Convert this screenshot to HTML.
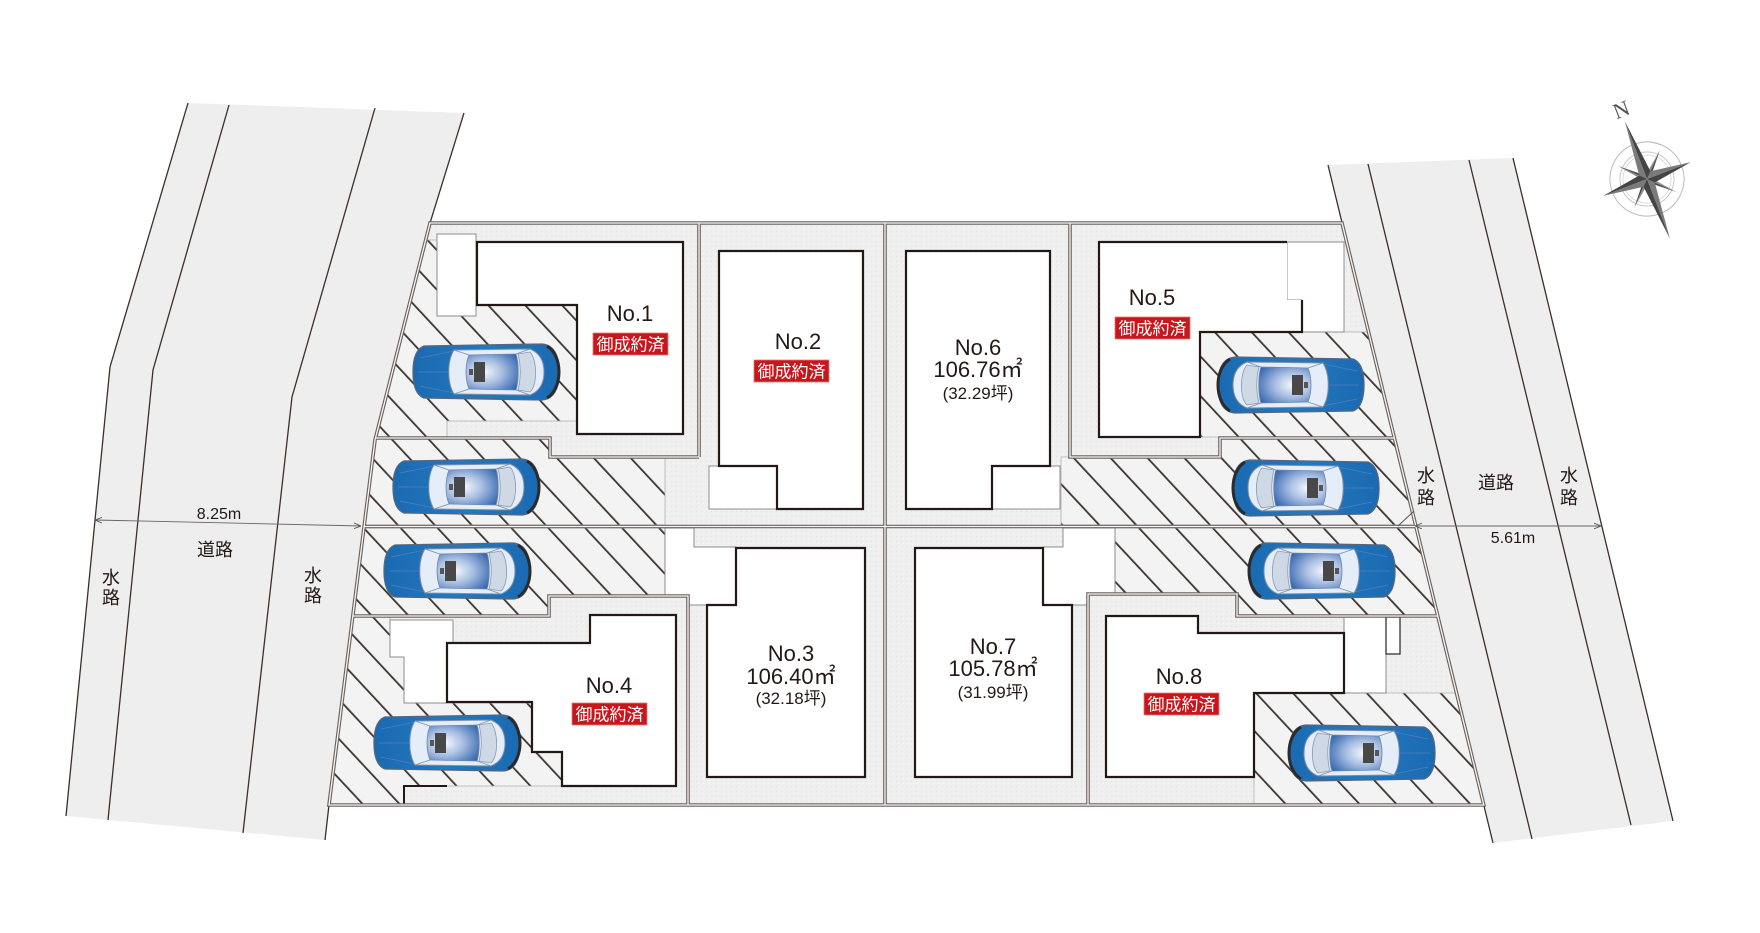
<!DOCTYPE html>
<html>
<head>
<meta charset="utf-8">
<style>
  html,body{margin:0;padding:0;background:#ffffff;}
  svg{display:block;}
  .no{font-family:"Liberation Sans","Noto Sans CJK JP",sans-serif;font-size:22px;fill:#231815;text-anchor:middle;}
  .area{font-family:"Liberation Sans","Noto Sans CJK JP",sans-serif;font-size:22px;fill:#231815;text-anchor:middle;}
  .tsubo{font-family:"Liberation Sans","Noto Sans CJK JP",sans-serif;font-size:17px;fill:#231815;text-anchor:middle;}
  .sold{font-family:"Liberation Sans","Noto Sans CJK JP",sans-serif;font-size:17px;fill:#ffffff;text-anchor:middle;}
  .road{font-family:"Liberation Sans","Noto Sans CJK JP",sans-serif;font-size:18px;fill:#231815;text-anchor:middle;}
  .dim{font-family:"Liberation Sans","Noto Sans CJK JP",sans-serif;font-size:16px;fill:#231815;text-anchor:middle;}
</style>
</head>
<body>
<svg width="1760" height="933" viewBox="0 0 1760 933" xmlns="http://www.w3.org/2000/svg">
<defs>
  <pattern id="hatch" patternUnits="userSpaceOnUse" width="40" height="27" patternTransform="rotate(47)">
    <rect width="40" height="27" fill="#f3f3f3"/>
    <rect x="0" y="12.2" width="40" height="1.8" fill="#3d3431"/>
  </pattern>
  <pattern id="dots" patternUnits="userSpaceOnUse" width="5" height="5">
    <rect width="5" height="5" fill="#efefef"/>
    <rect x="1" y="1" width="1" height="1" fill="#e3e3e3"/>
    <rect x="3" y="3" width="1" height="1" fill="#f7f7f7"/>
  </pattern>
  <linearGradient id="carBody" x1="0" y1="0" x2="1" y2="0">
    <stop offset="0" stop-color="#1a6ab2"/>
    <stop offset="0.5" stop-color="#2478be"/>
    <stop offset="1" stop-color="#1a6ab2"/>
  </linearGradient>
  <radialGradient id="roof" cx="0.35" cy="0.5" r="0.75">
    <stop offset="0" stop-color="#f6f8fd"/>
    <stop offset="0.45" stop-color="#a9bfe2"/>
    <stop offset="1" stop-color="#3466b0"/>
  </radialGradient>
  <marker id="arr" viewBox="0 0 10 10" refX="10" refY="5" markerWidth="7" markerHeight="7" orient="auto-start-reverse" markerUnits="userSpaceOnUse">
    <path d="M0,1 L10,5 L0,9" fill="none" stroke="#555" stroke-width="1.2"/>
  </marker>
  <g id="car">
    <path d="M12,3 C4,6 1,15 1,29 C1,43 4,52 12,55 L130,57 C142,56 147,46 147,29 C147,12 142,2 130,1 Z" fill="url(#carBody)" stroke="#56667e" stroke-width="1.3"/>
    <path d="M135,3 C143,8 147,18 147,29 C147,40 143,50 135,55" fill="none" stroke="#2b2b2b" stroke-width="3"/>
    <path d="M8,15 L42,8 M8,43 L42,50 M6,29 L36,29" stroke="#4f80b9" stroke-width="0.8" fill="none"/>
    <path d="M42,7 L118,6 C128,10 132,18 132,29 C132,40 128,48 118,52 L42,51 C35,40 35,18 42,7 Z" fill="#e4edf8" stroke="#7d8ea6" stroke-width="1"/>
    <path d="M57,12 L104,11 C107,20 107,38 104,47 L57,46 C53,36 53,22 57,12 Z" fill="url(#roof)" stroke="#6f86a8" stroke-width="0.8"/>
    <path d="M106,11 L118,9 C125,16 126,42 118,49 L106,47 C109,36 109,22 106,11 Z" fill="#cfd9e6" stroke="#8a9ab0" stroke-width="0.8"/>
    <path d="M42,7 L57,12 M42,51 L57,46 M104,11 L118,6 M104,47 L118,52" stroke="#7d8ea6" stroke-width="0.8" fill="none"/>
    <rect x="62" y="19" width="11" height="20" fill="#484848"/>
    <rect x="57" y="26" width="4" height="6" fill="#555555"/>
  </g>
  <g id="bnd" fill="none">
    <path d="M430,223 L1342,223 L1483.8,805 L329,805 L375,440 Z"/>
    <path d="M699,223 V457"/>
    <path d="M375.5,438 H550 V457 H699"/>
    <path d="M885,223 V805"/>
    <path d="M364.2,526.5 H1416"/>
    <path d="M1070,223 V457 H1220 V438 H1394.4"/>
    <path d="M352.7,616 H549 V596 H688 V805"/>
    <path d="M1088,805 V594 H1237 V616 H1438"/>
  </g>
</defs>

<rect width="1760" height="933" fill="#ffffff"/>

<!-- LEFT ROAD -->
<polygon points="188,103 464,113 430,223 375,440 325,840 66,816 110,367" fill="#eeeeee"/>
<g fill="none" stroke="#3a2f2b" stroke-width="1.3">
  <polyline points="188,103 110,367 66,816"/>
  <polyline points="229,105 153,370 108,820"/>
  <polyline points="375,108 292,397 243,833"/>
  <polyline points="464,113 430,223 375,440 329,805 325,840"/>
</g>

<!-- RIGHT ROAD -->
<polygon points="1328,165 1513,158 1673,821 1493,843" fill="#eeeeee"/>
<g fill="none" stroke="#3a2f2b" stroke-width="1.3">
  <line x1="1328" y1="165" x2="1493" y2="843"/>
  <line x1="1368" y1="164" x2="1532" y2="839"/>
  <line x1="1469" y1="160" x2="1631" y2="825"/>
  <line x1="1513" y1="158" x2="1673" y2="821"/>
</g>

<!-- LOT BLOCK BASE -->
<polygon points="430,223 1342,223 1483.8,805 329,805 375,440" fill="url(#dots)"/>

<!-- HATCHED AREAS -->
<g fill="url(#hatch)" stroke="#b0b0b0" stroke-width="0.8">
  <polygon points="425.7,240 437,240 437,305 577,305 577,421 447,421 447,438 375.5,438"/>
  <polygon points="375.5,438 550,438 550,457 665,457 665,525 364.2,525"/>
  <polygon points="364,528 665,528 665,595 549,595 549,615 353,615"/>
  <polygon points="352.7,617 390,617 390,657 404,657 404,703 532,703 532,752 562,752 562,786 404,786 404,805 329,805"/>
  <polygon points="1200,332 1368.6,332 1394.2,437 1200,437"/>
  <polygon points="1061,457 1220,457 1220,438 1394.4,438 1415.9,525 1061,525"/>
  <polygon points="1115,528 1416.4,528 1437.5,615 1237,615 1237,593 1115,593"/>
  <polygon points="1254,693 1456.5,693 1483.8,805 1254,805"/>
</g>

<!-- WHITE ANNEXES -->
<g fill="#ffffff" stroke="#8c8c8c" stroke-width="1">
  <rect x="437" y="234" width="39" height="82"/>
  <rect x="709" y="466" width="68" height="43"/>
  <rect x="992" y="466" width="68" height="43"/>
  <polygon points="1287,242 1344,242 1344,332 1302,332 1302,300 1287,300"/>
  <polygon points="390,620 453,620 453,643 447,643 447,703 404,703 404,657 390,657"/>
  <polygon points="665,528 694,528 694,547 736,547 736,605 689,605 689,595 665,595"/>
  <polygon points="1063,528 1115,528 1115,593 1087,593 1087,605 1043,605 1043,547 1063,547"/>
  <rect x="1344" y="617" width="42" height="76"/>
</g>
<rect x="1386" y="617" width="14" height="37" fill="#ffffff" stroke="#333" stroke-width="1.3"/>

<!-- BUILDINGS -->
<g fill="#ffffff" stroke="#231815" stroke-width="2.2" stroke-linejoin="miter">
  <path d="M477,242 H683 V434 H577 V305 H477 Z"/>
  <path d="M719,251 H863 V509 H777 V466 H719 Z"/>
  <path d="M906,251 H1050 V466 H992 V509 H906 Z"/>
  <path d="M447,643 H590 V615 H676 V786 H562 V752 H532 V702 H447 Z"/>
  <path d="M736,548 H865 V777 H707 V605 H736 Z"/>
  <path d="M915,548 H1043 V605 H1072 V777 H915 Z"/>
  <path d="M1106,616 H1198 V633 H1344 V693 H1254 V777 H1106 Z"/>
</g>
<path d="M1099,242 H1287 V300 H1302 V332 H1200 V437 H1099 Z" fill="#ffffff"/>
<path d="M1287,242 H1099 V437 H1200 V332 H1302 V300" fill="none" stroke="#231815" stroke-width="2.2"/>
<path d="M404,805 V786 H447" fill="none" stroke="#231815" stroke-width="2"/>

<!-- BOUNDARY DOUBLE LINES -->
<use href="#bnd" stroke="#6b625e" stroke-width="3.6"/>
<use href="#bnd" stroke="#f6f6f6" stroke-width="1.3"/>
<line x1="1398" y1="526" x2="1414" y2="511" stroke="#555" stroke-width="1"/>

<!-- CARS -->
<use href="#car" transform="translate(412,343)"/>
<use href="#car" transform="translate(392,458)"/>
<use href="#car" transform="translate(383,542)"/>
<use href="#car" transform="translate(373,714)"/>
<use href="#car" transform="translate(1365,356) scale(-1,1)"/>
<use href="#car" transform="translate(1380,459) scale(-1,1)"/>
<use href="#car" transform="translate(1396,542) scale(-1,1)"/>
<use href="#car" transform="translate(1436,724) scale(-1,1)"/>

<!-- LOT LABELS -->
<text class="no" x="630" y="321">No.1</text>
<rect x="593" y="333" width="75" height="22" fill="#c8161d" stroke="#e07a7a" stroke-width="0.8"/>
<text class="sold" x="630.5" y="350.5">御成約済</text>

<text class="no" x="798" y="349">No.2</text>
<rect x="754" y="360" width="75" height="22" fill="#c8161d" stroke="#e07a7a" stroke-width="0.8"/>
<text class="sold" x="791.5" y="377.5">御成約済</text>

<text class="no" x="978" y="355">No.6</text>
<text class="area" x="978" y="377">106.76㎡</text>
<text class="tsubo" x="978" y="399">(32.29坪)</text>

<text class="no" x="1152" y="305">No.5</text>
<rect x="1115" y="317" width="75" height="22" fill="#c8161d" stroke="#e07a7a" stroke-width="0.8"/>
<text class="sold" x="1152.5" y="334.5">御成約済</text>

<text class="no" x="609" y="693">No.4</text>
<rect x="572" y="703" width="75" height="22" fill="#c8161d" stroke="#e07a7a" stroke-width="0.8"/>
<text class="sold" x="609.5" y="720.5">御成約済</text>

<text class="no" x="791" y="661">No.3</text>
<text class="area" x="791" y="684">106.40㎡</text>
<text class="tsubo" x="791" y="704">(32.18坪)</text>

<text class="no" x="993" y="654">No.7</text>
<text class="area" x="993" y="676">105.78㎡</text>
<text class="tsubo" x="993" y="698">(31.99坪)</text>

<text class="no" x="1179" y="684">No.8</text>
<rect x="1144" y="693" width="75" height="22" fill="#c8161d" stroke="#e07a7a" stroke-width="0.8"/>
<text class="sold" x="1181.5" y="710.5">御成約済</text>

<!-- ROAD LABELS -->
<text class="road" x="111" y="584">水</text>
<text class="road" x="111" y="604">路</text>
<text class="road" x="215" y="556">道路</text>
<text class="road" x="313" y="582">水</text>
<text class="road" x="313" y="602">路</text>

<text class="road" x="1426" y="482">水</text>
<text class="road" x="1426" y="504">路</text>
<text class="road" x="1496" y="489">道路</text>
<text class="road" x="1569" y="482">水</text>
<text class="road" x="1569" y="504">路</text>

<!-- DIMENSIONS -->
<line x1="95" y1="520" x2="361" y2="526" stroke="#666" stroke-width="0.9" marker-start="url(#arr)" marker-end="url(#arr)"/>
<text class="dim" x="219" y="519">8.25m</text>
<line x1="1415" y1="526" x2="1601" y2="526" stroke="#666" stroke-width="0.9" marker-start="url(#arr)" marker-end="url(#arr)"/>
<text class="dim" x="1513" y="543">5.61m</text>

<!-- COMPASS -->
<g transform="translate(1647,179) rotate(-21)">
  <circle r="37" fill="none" stroke="#b5b5b5" stroke-width="0.9"/>
  <circle r="27" fill="none" stroke="#c2c2c2" stroke-width="0.9"/>
  <circle r="24" fill="none" stroke="#cfcfcf" stroke-width="0.7"/>
  <g>
    <polygon points="0,0 22.6,-22.6 5,-1.5" fill="#4a4a4a"/>
    <polygon points="0,0 22.6,-22.6 1.5,-5" fill="#8a8a8a"/>
    <polygon points="0,0 22.6,22.6 1.5,5" fill="#4a4a4a"/>
    <polygon points="0,0 22.6,22.6 5,1.5" fill="#8a8a8a"/>
    <polygon points="0,0 -22.6,22.6 -5,1.5" fill="#4a4a4a"/>
    <polygon points="0,0 -22.6,22.6 -1.5,5" fill="#8a8a8a"/>
    <polygon points="0,0 -22.6,-22.6 -1.5,-5" fill="#4a4a4a"/>
    <polygon points="0,0 -22.6,-22.6 -5,-1.5" fill="#8a8a8a"/>
  </g>
  <polygon points="0,0 0,-62 6,-6" fill="#444"/>
  <polygon points="0,0 0,-62 -6,-6" fill="#7a7a7a"/>
  <polygon points="0,0 47,0 6,6" fill="#444"/>
  <polygon points="0,0 47,0 6,-6" fill="#7a7a7a"/>
  <polygon points="0,0 0,64 -6,6" fill="#444"/>
  <polygon points="0,0 0,64 6,6" fill="#7a7a7a"/>
  <polygon points="0,0 -47,0 -6,-6" fill="#444"/>
  <polygon points="0,0 -47,0 -6,6" fill="#7a7a7a"/>
</g>
<text x="1621" y="117" font-family="'Liberation Serif',serif" font-size="22" fill="#555" text-anchor="middle" transform="rotate(-21 1621 109)">N</text>
</svg>
</body>
</html>
